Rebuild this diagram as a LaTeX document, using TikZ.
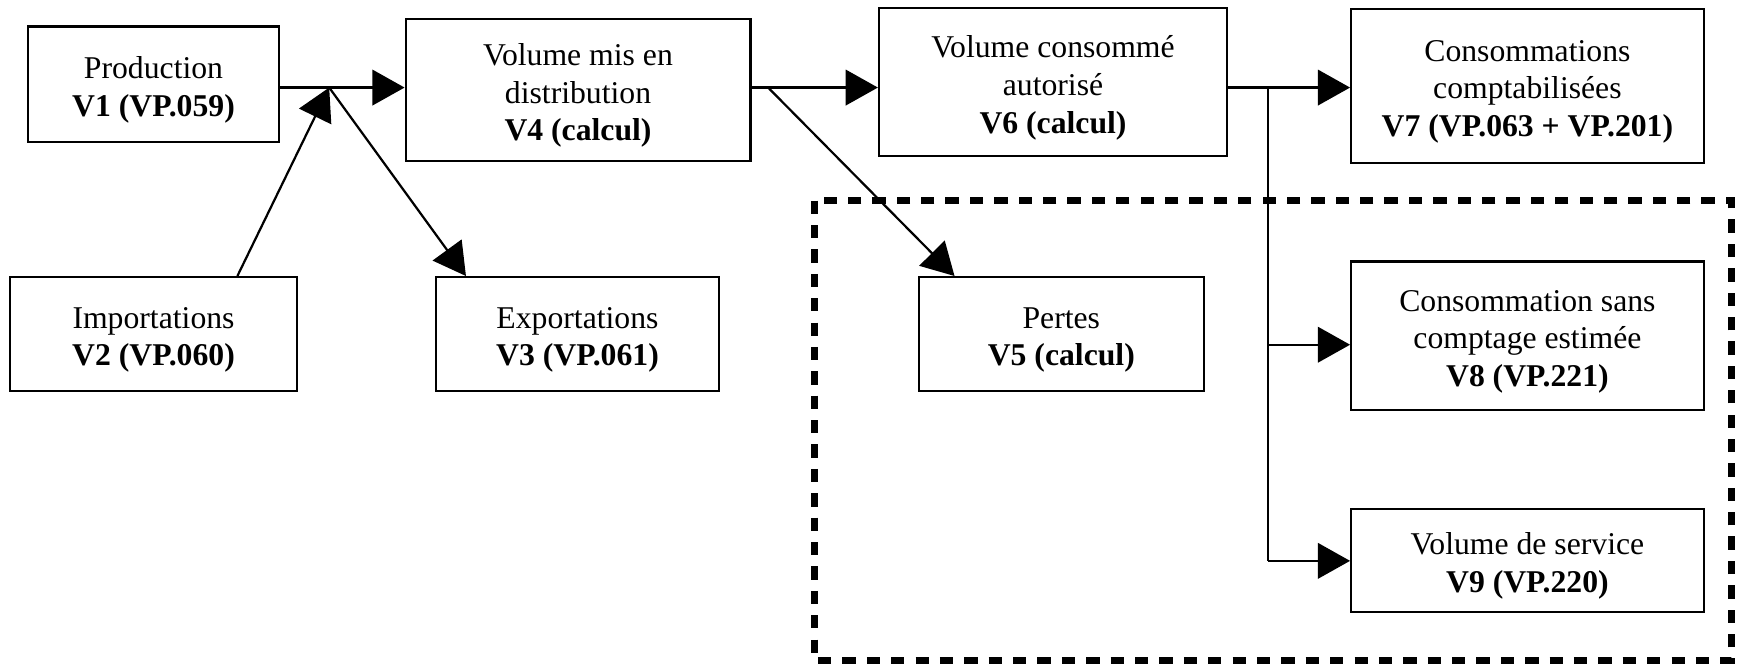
\documentclass[tikz,border=0pt]{standalone}
\usepackage{fontspec}
\setmainfont{Liberation Serif}
\usetikzlibrary{arrows.meta,calc}
\begin{document}
\begin{tikzpicture}[x=0.5pt,y=-0.5pt,
  box/.style={draw, line width=1pt, inner sep=0pt,
    label={[align=center, inner sep=0pt, yshift=-2.6pt,
      font=\fontsize{14.3}{17}\selectfont]center:{#1}}},
  arr/.style={line width=1pt, -{Triangle[length=14.5pt,width=16pt]}},
  conn/.style={line width=1pt},
  zone/.style={line width=3pt, dash pattern=on 6pt off 5pt}]
\useasboundingbox (0,0) rectangle (1568,599);
\node[box={Production\\\textbf{V1 (VP.059)}}, minimum width=113.5pt, minimum height=52pt] (v1) at (138.5,76) {};
\node[box={Volume mis en\\distribution\\\textbf{V4 (calcul)}}, minimum width=155.5pt, minimum height=64pt] (v4) at (521.5,81) {};
\node[box={Volume consommé\\autorisé\\\textbf{V6 (calcul)}}, minimum width=157pt, minimum height=67pt] (v6) at (950,74) {};
\node[box={Consommations\\comptabilisées\\\textbf{V7 (VP.063 + VP.201)}}, minimum width=159pt, minimum height=69.5pt] (v7) at (1378,77.5) {};
\node[box={Importations\\\textbf{V2 (VP.060)}}, minimum width=129.5pt, minimum height=51.5pt] (v2) at (138.5,301.5) {};
\node[box={Exportations\\\textbf{V3 (VP.061)}}, minimum width=128pt, minimum height=51.5pt] (v3) at (521,301.5) {};
\node[box={Pertes\\\textbf{V5 (calcul)}}, minimum width=128.5pt, minimum height=51.5pt] (v5) at (957.5,301.5) {};
\node[box={Consommation sans\\comptage estimée\\\textbf{V8 (VP.221)}}, minimum width=159pt, minimum height=67pt] (v8) at (1378,303) {};
\node[box={Volume de service\\\textbf{V9 (VP.220)}}, minimum width=159pt, minimum height=46.5pt] (v9) at (1378,505.5) {};
\coordinate (j1) at (297,79);
\coordinate (j2) at (693,79);
\coordinate (j3) at (1144,79);
\coordinate (b8) at (1144,311);
\coordinate (b9) at (1144,506);
\draw[zone] (735,181) rectangle (1562,596);
\draw[arr] (v1.east |- j1) -- (v4.west |- j1);
\draw[arr] ($(v2.north west)!0.79!(v2.north east)$) -- (j1);
\draw[arr] (j1) -- ($(v3.north west)!0.11!(v3.north east)$);
\draw[arr] (v4.east |- j2) -- (v6.west |- j2);
\draw[arr] (j2) -- ($(v5.north west)!0.128!(v5.north east)$);
\draw[arr] (v6.east |- j3) -- (v7.west |- j3);
\draw[conn] (j3) -- (b9);
\draw[arr] (b8) -- (b8 -| v8.west);
\draw[arr] (b9) -- (b9 -| v9.west);
\end{tikzpicture}
\end{document}
